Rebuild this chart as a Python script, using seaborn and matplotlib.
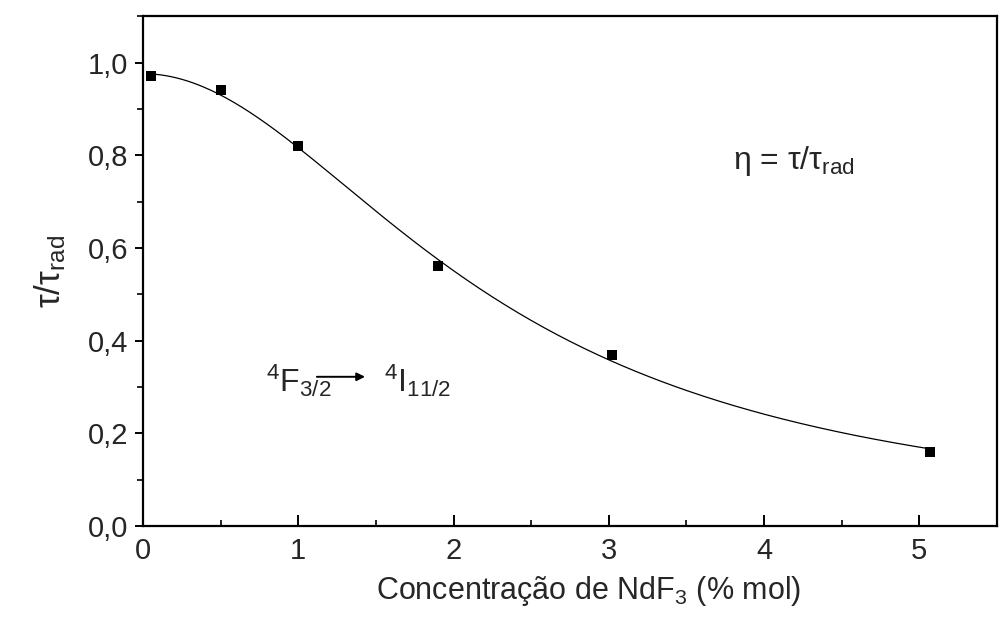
import numpy as np
import pandas as pd
import matplotlib
matplotlib.use("Agg")
import matplotlib.pyplot as plt
from matplotlib.ticker import FixedLocator, MultipleLocator, FuncFormatter
import seaborn as sns

# Measured quantum efficiency of the 4F3/2 level vs. NdF3 content
conc = [0.05, 0.5, 1.0, 1.9, 3.02, 5.07]          # % mol
eff = [0.97, 0.94, 0.82, 0.56, 0.37, 0.16]        # tau / tau_rad

x_ticks = [0, 1, 2, 3, 4, 5]
y_ticks = [0.0, 0.2, 0.4, 0.6, 0.8, 1.0]

sns.set_style("white")
plt.rcParams["font.family"] = ["Liberation Sans", "DejaVu Sans"]
plt.rcParams["mathtext.fontset"] = "custom"
plt.rcParams["mathtext.rm"] = "Liberation Sans"
plt.rcParams["mathtext.it"] = "Liberation Sans:italic"
plt.rcParams["mathtext.default"] = "regular"

df = pd.DataFrame({"conc": conc, "eff": eff})

# Least-squares fit of a quenching curve  A / (1 + (c/c0)^n)  by grid search
x = np.asarray(conc)
y = np.asarray(eff)
A = np.linspace(0.94, 1.03, 46)[:, None, None, None]
c0 = np.linspace(1.5, 3.0, 76)[None, :, None, None]
n = np.linspace(1.2, 3.0, 91)[None, None, :, None]
sse = ((A / (1 + (x / c0) ** n) - y) ** 2).sum(axis=-1)
i, j, k = np.unravel_index(np.argmin(sse), sse.shape)
A_f, c0_f, n_f = A.ravel()[i], c0.ravel()[j], n.ravel()[k]
xf = np.linspace(x.min(), x.max(), 300)
fit = pd.DataFrame({"conc": xf, "eff": A_f / (1 + (xf / c0_f) ** n_f)})

fig = plt.figure(figsize=(10.02, 6.24), dpi=100)
ax = fig.add_axes([0.1427, 0.157, 0.8523, 0.817])

sns.lineplot(data=fit, x="conc", y="eff", ax=ax, color="black", lw=0.9,
             estimator=None, sort=False)
sns.scatterplot(data=df, x="conc", y="eff", ax=ax, marker="s", s=62,
                color="black", edgecolor="black", linewidth=0, zorder=3)

ax.set_xlim(0, 5.5)
ax.set_ylim(0, 1.1)

ax.xaxis.set_major_locator(FixedLocator(x_ticks))
ax.xaxis.set_minor_locator(MultipleLocator(0.5))
ax.yaxis.set_major_locator(FixedLocator(y_ticks))
ax.yaxis.set_minor_locator(MultipleLocator(0.1))
ax.xaxis.set_major_formatter(FuncFormatter(lambda v, p: f"{v:g}"))
ax.yaxis.set_major_formatter(FuncFormatter(lambda v, p: f"{v:.1f}".replace(".", ",")))

ax.tick_params(axis="both", which="both", bottom=True, left=True,
               top=False, right=False, color="black")
ax.tick_params(axis="x", which="major", direction="in", length=8, width=1.4,
               labelsize=21, pad=8)
ax.tick_params(axis="x", which="minor", direction="in", length=4.5, width=1.2)
ax.tick_params(axis="y", which="major", direction="out", length=5.5, width=1.4,
               labelsize=21, pad=5)
ax.tick_params(axis="y", which="minor", direction="out", length=4, width=1.2)

for s in ax.spines.values():
    s.set_visible(True)
    s.set_color("black")
    s.set_linewidth(1.6)

ax.set_xlabel("Concentração de NdF$_{3}$ (% mol)", fontsize=22, labelpad=4)
ax.set_ylabel(r"τ/τ$_{rad}$", fontsize=25, labelpad=14)
ax.xaxis.set_label_coords(0.522, -0.095)

# Annotations
ax.text(3.80, 0.77, r"η = τ/τ$_{rad}$", fontsize=23, ha="left", va="baseline")
ax.text(0.79, 0.29, r"$^{4}$F$_{3/2}$", fontsize=23, ha="left", va="baseline")
ax.annotate("", xy=(1.43, 0.322), xytext=(1.12, 0.322),
            arrowprops=dict(arrowstyle="-|>", color="black", lw=1.4,
                            mutation_scale=12, shrinkA=0, shrinkB=0))
ax.text(1.55, 0.29, r"$^{4}$I$_{11/2}$", fontsize=23, ha="left", va="baseline")

fig.savefig("out.png", dpi=100, facecolor="white")
